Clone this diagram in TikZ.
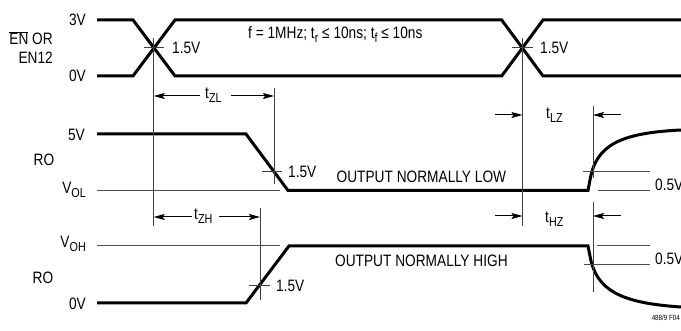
\documentclass[tikz,border=0pt]{standalone}
\usepackage{fontspec}
\setmainfont{Liberation Sans}[FakeStretch=0.83]
\usetikzlibrary{arrows.meta}
\newcommand{\lsub}[1]{\raisebox{-4pt}{\fontsize{13}{14}\selectfont #1}}
\begin{document}
\begin{tikzpicture}[x=1pt,y=-1pt,
  wave/.style={line width=3pt,line join=miter},
  thin/.style={line width=1pt,black!75},
  refl/.style={line width=1pt,black!70},
  dim/.style={line width=1pt,-{Stealth[length=11pt,width=6pt,inset=2pt]}},
  lab/.style={inner sep=0pt,font=\fontsize{16.5}{18}\selectfont}]
\useasboundingbox (0,0) rectangle (681,331);
% ---- input waveform
\draw[wave] (97,20) -- (133,20) -- (175,76) -- (501.7,76) -- (543,20) -- (681,20);
\draw[wave] (97,76) -- (133,76) -- (175,20) -- (501.7,20) -- (543,76) -- (681,76);
% ---- RO waveforms
\draw[wave] (97,134) -- (246,134) -- (288,190.5) -- (588,190.5) -- (590,180)
  .. controls (596,145) and (620,133) .. (681,130);
\draw[wave] (97,303) -- (246,303) -- (289,246) -- (588,246) -- (590,256)
  .. controls (596,290) and (620,303) .. (681,307);
% ---- reference lines
\draw[refl] (97,190.5) -- (280,190.5);
\draw[refl] (97,246) -- (280,246);
\draw[refl] (583,172) -- (650,172);
\draw[refl] (598,190.5) -- (650,190.5);
\draw[refl] (597,246) -- (650,246);
\draw[refl] (584,265) -- (650,265);
% ---- verticals and crosshairs
\coordinate (v1t) at (153.7,38); \coordinate (v1b) at (153.7,226);
\coordinate (v2t) at (522.5,38); \coordinate (v2b) at (522.5,226);
\coordinate (v3t) at (274,88);  \coordinate (v3b) at (274,184);
\coordinate (v4t) at (260,208); \coordinate (v4b) at (260,300);
\coordinate (v5t) at (593,106); \coordinate (v5b) at (593,178);
\coordinate (v6t) at (593,202); \coordinate (v6b) at (593,292);
\draw[thin] (v1t) -- (v1b);
\draw[thin] (v2t) -- (v2b);
\draw[thin] (v3t) -- (v3b);
\draw[thin] (v4t) -- (v4b);
\draw[thin] (v5t) -- (v5b);
\draw[thin] (v6t) -- (v6b);
\draw[thin] (144,48) -- (164,48);
\draw[thin] (512,48) -- (533,48);
\draw[thin] (262,172) -- (282,172);
\draw[thin] (249,286) -- (270,286);
% ---- dimension arrows
\coordinate (zl1) at (200,96); \coordinate (zl1e) at (153.7,96);
\coordinate (zl2) at (231,96); \coordinate (zl2e) at (274,96);
\coordinate (zh1) at (192,217); \coordinate (zh1e) at (153.7,217);
\coordinate (zh2) at (219,217); \coordinate (zh2e) at (260,217);
\coordinate (lz1) at (495,115); \coordinate (lz1e) at (522.5,115);
\coordinate (lz2) at (621,115); \coordinate (lz2e) at (593,115);
\coordinate (hz1) at (495,216); \coordinate (hz1e) at (522.5,216);
\coordinate (hz2) at (621,216); \coordinate (hz2e) at (593,216);
\draw[dim] (zl1) -- (zl1e);
\draw[dim] (zl2) -- (zl2e);
\draw[dim] (zh1) -- (zh1e);
\draw[dim] (zh2) -- (zh2e);
\draw[dim] (lz1) -- (lz1e);
\draw[dim] (lz2) -- (lz2e);
\draw[dim] (hz1) -- (hz1e);
\draw[dim] (hz2) -- (hz2e);
% ---- labels
\node[lab,anchor=base east] (l3v) at (86,25.5) {3V};
\node[lab,anchor=base east] (l0v) at (86,82) {0V};
\node[lab,anchor=base east] (len) at (53,45) {$\overline{\hbox{EN}}$ OR};
\node[lab,anchor=base east] (len12) at (53,63.5) {EN12};
\node[lab,anchor=base east] (l5v) at (85,141) {5V};
\node[lab,anchor=base] (lro1) at (44,166) {RO};
\node[lab,anchor=base east] (lvol) at (86,193.5) {V\lsub{OL}};
\node[lab,anchor=base east] (lvoh) at (86,248) {V\lsub{OH}};
\node[lab,anchor=base] (lro2) at (43,283.5) {RO};
\node[lab,anchor=base east] (l0v2) at (86,309.5) {0V};
\node[lab,anchor=base west] (c1) at (172,54) {1.5V};
\node[lab,anchor=base west] (c2) at (540,54) {1.5V};
\node[lab,anchor=base west] (c3) at (288,178) {1.5V};
\node[lab,anchor=base west] (c4) at (276,292) {1.5V};
\node[lab,anchor=base west] (freq) at (248,39) {f = 1MHz; t\lsub{r} ≤ 10ns; t\lsub{f} ≤ 10ns};
\node[lab,anchor=base west] (low) at (336.5,182.3) {OUTPUT NORMALLY LOW};
\node[lab,anchor=base west] (high) at (335,266.5) {OUTPUT NORMALLY HIGH};
\node[lab,anchor=base west] (h1) at (655,190.5) {0.5V};
\node[lab,anchor=base west] (h2) at (655,265) {0.5V};
\node[lab,anchor=base west] (tzl) at (205,99) {t\lsub{ZL}};
\node[lab,anchor=base west] (tzh) at (194,220) {t\lsub{ZH}};
\node[lab,anchor=base west] (tlz) at (546,119) {t\lsub{LZ}};
\node[lab,anchor=base west] (thz) at (545,223) {t\lsub{HZ}};
\node[inner sep=0pt,anchor=base east,font=\fontsize{7.5}{9}\selectfont] (fig) at (680,321) {488/9 F04};
\end{tikzpicture}
\end{document}
